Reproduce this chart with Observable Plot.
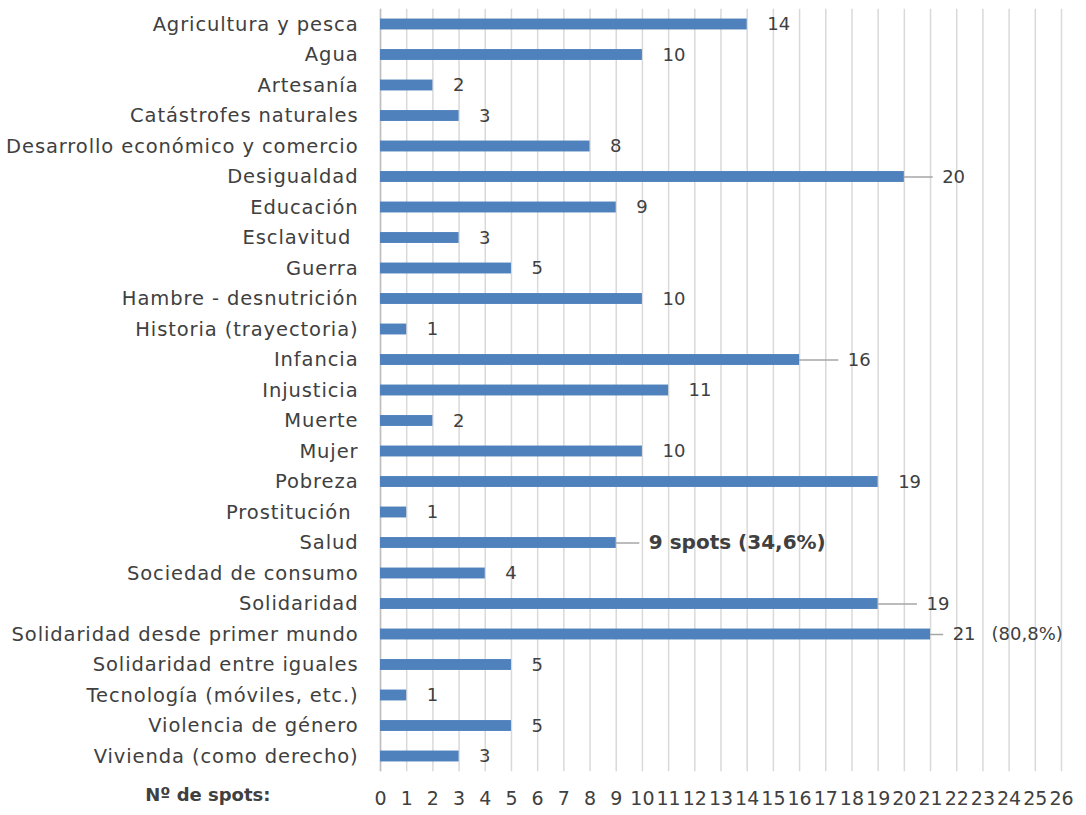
<!DOCTYPE html>
<html>
<head>
<meta charset="utf-8">
<script src="https://cdn.jsdelivr.net/npm/d3@7"></script>
<script src="https://cdn.jsdelivr.net/npm/@observablehq/plot@0.6"></script>
<style>
  html, body { margin: 0; padding: 0; background: #fff; }
  #chart svg { display: block; }
  #chart g[aria-label="y-axis tick label"] text { letter-spacing: 0.9px; }
</style>
</head>
<body>
<div id="chart"></div>
<script>
const categories = [
  "Agricultura y pesca", "Agua", "Artesanía", "Catástrofes naturales",
  "Desarrollo económico y comercio", "Desigualdad", "Educación", "Esclavitud\u00a0",
  "Guerra", "Hambre - desnutrición", "Historia (trayectoria)", "Infancia",
  "Injusticia", "Muerte", "Mujer", "Pobreza", "Prostitución\u00a0", "Salud",
  "Sociedad de consumo", "Solidaridad", "Solidaridad desde primer mundo",
  "Solidaridad entre iguales", "Tecnología (móviles, etc.)", "Violencia de género",
  "Vivienda (como derecho)"
];
const spots = [14, 10, 2, 3, 8, 20, 9, 3, 5, 10, 1, 16, 11, 2, 10, 19, 1, 9, 4, 19, 21, 5, 1, 5, 3];
const valueLabels = spots.map(String);
valueLabels[categories.indexOf("Salud")] = "9 spots (34,6%)";
const extraLabel = { category: "Solidaridad desde primer mundo", text: "(80,8%)" };
const xTicks = d3.range(0, 27);
const axisTitle = "Nº de spots:";

// leader lines (length in axis units) for annotated bars
const leaders = {
  "Desigualdad": 1.1,
  "Infancia": 1.5,
  "Solidaridad": 1.5,
  "Salud": 0.9,
  "Solidaridad desde primer mundo": 0.5
};

const data = categories.map((c, i) => ({
  cat: c, value: spots[i], label: valueLabels[i],
  leader: leaders[c] || 0
}));
const leaderData = data.filter(d => d.leader > 0);
const plainLabels = data.filter(d => d.leader === 0);
const leaderLabels = data.filter(d => d.leader > 0 && d.cat !== "Salud");
const saludLabel = data.filter(d => d.cat === "Salud");
const extra = data.filter(d => d.cat === extraLabel.category).map(d => ({...d, text: extraLabel.text}));

const chart = Plot.plot({
  width: 1086,
  height: 815,
  marginLeft: 380,
  marginRight: 25,
  marginTop: 8.75,
  marginBottom: 43.75,
  style: { fontFamily: "'DejaVu Sans', sans-serif", fontSize: "17px", color: "#404040", background: "#fff" },
  x: { domain: [0, 26], axis: null, label: null },
  y: { domain: categories, padding: 0, round: false, axis: null, label: null },
  marks: [
    Plot.ruleX(xTicks, { x: d => d, stroke: "#d9d9d9", strokeWidth: 1.5 }),
    Plot.ruleX([0], { stroke: "#bfbfbf", strokeWidth: 1.5 }),
    Plot.barX(data, { x: "value", y: "cat", fill: "#4F81BD", insetTop: 9.8, insetBottom: 9.8 }),
    Plot.ruleY(leaderData, { y: "cat", x1: "value", x2: d => d.value + d.leader, stroke: "#a6a6a6", strokeWidth: 1.5 }),
    Plot.text(plainLabels, { x: "value", y: "cat", text: "label", textAnchor: "start", dx: 20, fontSize: 18, fill: "#404040" }),
    Plot.text(leaderLabels, { x: d => d.value + d.leader, y: "cat", text: "label", textAnchor: "start", dx: 9, fontSize: 18, fill: "#404040" }),
    Plot.text(saludLabel, { x: d => d.value + d.leader, y: "cat", text: "label", textAnchor: "start", dx: 9, fontSize: 20, fontWeight: "bold", fill: "#404040" }),
    Plot.text(extra, { x: "value", y: "cat", text: "text", textAnchor: "start", dx: 61, fontSize: 18, fill: "#404040" }),
    Plot.axisY({ tickSize: 0, tickPadding: 22, fontSize: 19.5, fill: "#404040", label: null }),
    Plot.axisX(xTicks, { tickSize: 0, tickPadding: 20, fontSize: 19, fill: "#404040", label: null, tickFormat: d => String(d) }),
    Plot.text([axisTitle], { frameAnchor: "bottom-left", textAnchor: "end", dx: -110, dy: 29, fontSize: 18, fontWeight: "bold", fill: "#404040" })
  ]
});
document.getElementById("chart").appendChild(chart);
</script>
</body>
</html>
